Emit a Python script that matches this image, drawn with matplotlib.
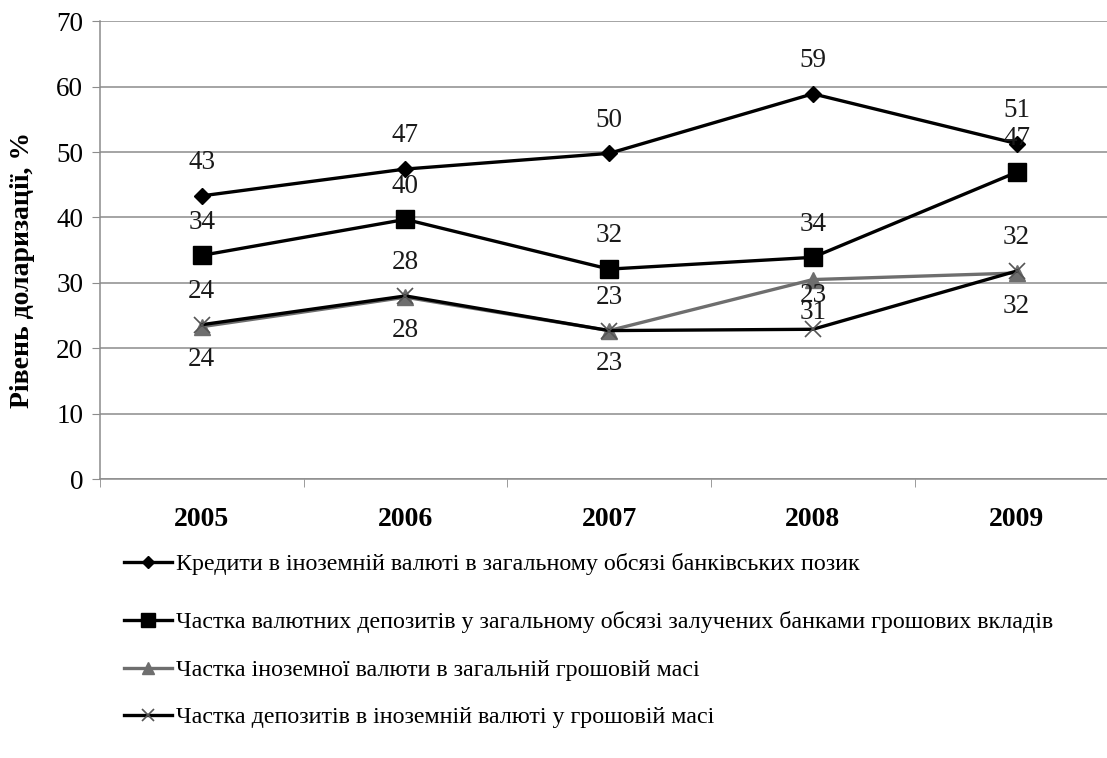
import numpy as np
import matplotlib
matplotlib.use('Agg')
import matplotlib.pyplot as plt

plt.rcParams['font.family'] = ['Liberation Serif', 'DejaVu Serif']

years = ['2005', '2006', '2007', '2008', '2009']
credits = [43.3, 47.4, 49.8, 58.9, 51.3]
deposits = [34.2, 39.7, 32.1, 33.9, 46.9]
money_share = [23.3, 27.8, 22.7, 30.5, 31.5]
dep_money = [23.6, 28.0, 22.7, 22.9, 31.8]

credits_lbl = ['43', '47', '50', '59', '51']
deposits_lbl = ['34', '40', '32', '34', '47']
money_lbl = ['24', '28', '23', '31', '32']
dep_money_lbl = ['24', '28', '23', '23', '32']

names = ['Кредити в іноземній валюті в загальному обсязі банківських позик',
         'Частка валютних депозитів у загальному обсязі залучених банками грошових вкладів',
         'Частка іноземної валюти в загальній грошовій масі',
         'Частка депозитів в іноземній валюті у грошовій масі']

fig = plt.figure(figsize=(11.07, 7.58), dpi=100)
ax = fig.add_axes([0.0903, 0.368, 0.92, 0.604])

x = np.arange(len(years))
grid_c = '#8c8c8c'

l1, = ax.plot(x, credits, color='black', lw=2.4, marker='D', ms=8, zorder=5)
l2, = ax.plot(x, deposits, color='black', lw=2.4, marker='s', ms=13, zorder=5)
l3, = ax.plot(x, money_share, color='#6e6e6e', lw=2.4, marker='^', ms=11, zorder=4)
l4, = ax.plot(x, dep_money, color='black', lw=2.4, marker='x', ms=11,
              mec='#555555', mew=1.2, zorder=6)

# data labels
for vals, lbls, off in [(credits, credits_lbl, 24), (deposits, deposits_lbl, 24),
                        (money_share, money_lbl, -24), (dep_money, dep_money_lbl, 24)]:
    for xi, v, t in zip(x, vals, lbls):
        ax.annotate(t, (xi, v), xytext=(0, off), textcoords='offset points',
                    ha='center', va='center', fontsize=19.5, color='#1a1a1a', zorder=7)

ax.set_xlim(-0.5, 4.5)
ax.set_ylim(0, 70)
ax.set_yticks(range(0, 71, 10))
ax.yaxis.grid(True, color=grid_c, lw=1.1)
ax.set_axisbelow(True)
ax.set_xticks(x)
ax.set_xticklabels(years, fontsize=20, fontweight='bold')
ax.set_xticks(np.arange(-0.5, 4.6, 1), minor=True)
ax.tick_params(axis='x', which='major', length=0, pad=20)
ax.tick_params(axis='x', which='minor', length=6, color=grid_c, direction='out')
ax.tick_params(axis='y', length=6, color=grid_c, labelsize=19.5, pad=6)
for s in ['top', 'right']:
    ax.spines[s].set_visible(False)
for s in ['left', 'bottom']:
    ax.spines[s].set_color(grid_c)
    ax.spines[s].set_linewidth(1.1)

ax.set_ylabel('Рівень доларизації, %', fontsize=20, fontweight='bold',
              ha='center', va='center')
ax.yaxis.set_label_coords(-0.0756, 0.456)

# legend entries, one per row
rows = [0.256, 0.179, 0.116, 0.054]
for h, name, yy in zip([l1, l2, l3, l4], names, rows):
    fig.legend(handles=[h], labels=[name], loc='center left',
               bbox_to_anchor=(0.112, yy), frameon=False, fontsize=17.3,
               handlelength=2.0, handletextpad=0.15, borderaxespad=0, borderpad=0,
               markerscale=0.8)

fig.savefig('out.png', dpi=100)
